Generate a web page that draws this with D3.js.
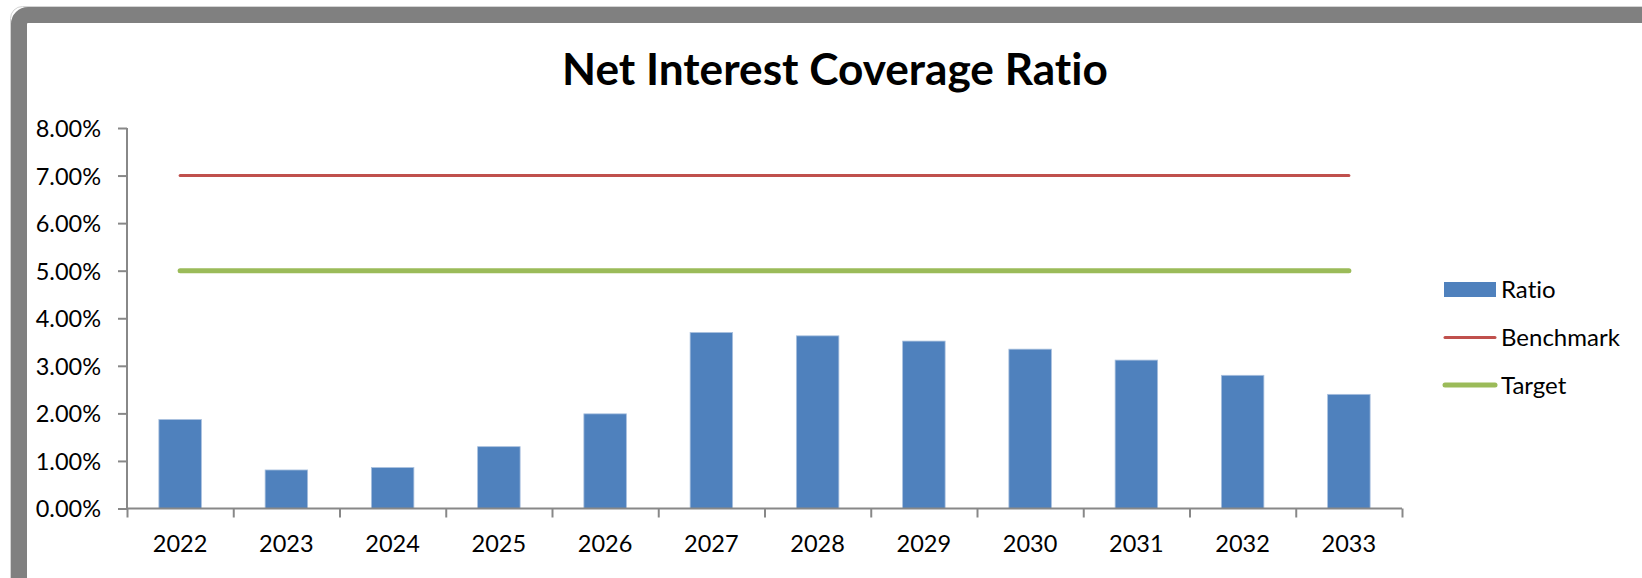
<!DOCTYPE html>
<html>
<head>
<meta charset="utf-8">
<script src="https://cdn.jsdelivr.net/npm/d3@7"></script>
<style>
  html, body { margin: 0; padding: 0; background: #fff; overflow: hidden; }
  .chart-text { font-family: Lato, "Noto Sans", sans-serif; fill: #000; font-variant-ligatures: none; }
</style>
</head>
<body>
<div id="chart-area"></div>
<script>
const years = ["2022", "2023", "2024", "2025", "2026", "2027", "2028", "2029", "2030", "2031", "2032", "2033"];
const ratio = [0.0187, 0.0081, 0.0086, 0.0130, 0.0199, 0.0370, 0.0363, 0.0352, 0.0335, 0.0312, 0.0280, 0.0240];
const benchmark = [0.07, 0.07, 0.07, 0.07, 0.07, 0.07, 0.07, 0.07, 0.07, 0.07, 0.07, 0.07];
const target = [0.05, 0.05, 0.05, 0.05, 0.05, 0.05, 0.05, 0.05, 0.05, 0.05, 0.05, 0.05];
const yTicks = [0, 0.01, 0.02, 0.03, 0.04, 0.05, 0.06, 0.07, 0.08];
const legendNames = ["Ratio", "Benchmark", "Target"];

const totalWidth = 1642, totalHeight = 578;
const plotLeft = 127, plotRight = 1402, plotTop = 128, plotBottom = 508.5;
const colors = { Ratio: "#4F81BD", Benchmark: "#C0504D", Target: "#9BBB59" };
const axisColor = "#888888";

const svg = d3.select("#chart-area")
  .append("svg")
    .attr("width", totalWidth)
    .attr("height", totalHeight);

// frame
svg.append("rect")
  .attr("x", 10.5).attr("y", 6.5)
  .attr("width", 1700).attr("height", 600)
  .attr("rx", 12)
  .attr("fill", "none")
  .attr("stroke", "#d4d4d4")
  .attr("stroke-width", 1);

svg.append("rect")
  .attr("x", 19).attr("y", 15)
  .attr("width", 1700).attr("height", 600)
  .attr("rx", 9)
  .attr("fill", "#fff")
  .attr("stroke", "#808080")
  .attr("stroke-width", 16);

const x = d3.scaleBand()
  .domain(years)
  .range([plotLeft, plotRight])
  .paddingInner(0.6)
  .paddingOuter(0.3);

const xTickScale = d3.scaleLinear()
  .domain([0, years.length])
  .range([plotLeft, plotRight]);

const y = d3.scaleLinear()
  .domain([0, 0.08])
  .range([plotBottom, plotTop]);

// title
const title = svg.append("text")
  .attr("class", "chart-text")
  .attr("x", 835)
  .attr("y", 85)
  .attr("text-anchor", "middle")
  .attr("font-weight", "bold")
  .attr("font-size", "44px")
  .text("Net Interest Coverage Ratio");
// fit title width to the reference
const tw = title.node().getComputedTextLength();
title.attr("font-size", (44 * 546 / tw) + "px");

// bars
svg.append("g")
  .selectAll("rect")
  .data(ratio)
  .join("rect")
    .attr("x", (d, i) => x(years[i]))
    .attr("y", d => y(d))
    .attr("width", x.bandwidth())
    .attr("height", d => y(0) - y(d))
    .attr("fill", colors.Ratio)
    .attr("stroke", "#a9c0de")
    .attr("stroke-width", 0.8);

// y axis
const yAxis = svg.append("g")
  .attr("transform", "translate(" + plotLeft + ",0)")
  .call(d3.axisLeft(y).tickValues(yTicks).tickFormat(d3.format(".2%")).tickSize(9).tickPadding(17));
yAxis.select(".domain").attr("stroke", axisColor).attr("stroke-width", 2).attr("d", "M0," + plotTop + "V" + plotBottom);
yAxis.selectAll(".tick line").attr("stroke", axisColor).attr("stroke-width", 2);
yAxis.selectAll(".tick text")
  .attr("class", "chart-text")
  .attr("font-size", "23.5px")
  .attr("dy", "0.36em");
yAxis.attr("font-family", null);

// x axis ticks on category boundaries
const xAxis = svg.append("g")
  .attr("transform", "translate(0," + plotBottom + ")")
  .call(d3.axisBottom(xTickScale).ticks(years.length).tickFormat("").tickSize(9));
xAxis.select(".domain").attr("stroke", axisColor).attr("stroke-width", 2).attr("d", "M" + plotLeft + ",0H" + plotRight);
xAxis.selectAll(".tick line").attr("stroke", axisColor).attr("stroke-width", 2);

// x labels
svg.append("g")
  .selectAll("text")
  .data(years)
  .join("text")
    .attr("class", "chart-text")
    .attr("x", d => x(d) + x.bandwidth() / 2)
    .attr("y", 552)
    .attr("text-anchor", "middle")
    .attr("font-size", "23.5px")
    .text(d => d);

// lines
const line = d3.line()
  .x((d, i) => x(years[i]) + x.bandwidth() / 2)
  .y(d => y(d));

svg.append("path")
  .datum(benchmark)
  .attr("d", line)
  .attr("fill", "none")
  .attr("stroke", colors.Benchmark)
  .attr("stroke-width", 3)
  .attr("stroke-linecap", "round");

svg.append("path")
  .datum(target)
  .attr("d", line)
  .attr("fill", "none")
  .attr("stroke", colors.Target)
  .attr("stroke-width", 5)
  .attr("stroke-linecap", "round");

// legend
const legend = svg.append("g").attr("transform", "translate(1444,0)");
const legendY = [289.5, 337.5, 385];
legendNames.forEach((name, i) => {
  const row = legend.append("g").attr("transform", "translate(0," + legendY[i] + ")");
  if (name === "Ratio") {
    row.append("rect")
      .attr("x", 0).attr("y", -7.5)
      .attr("width", 52).attr("height", 15)
      .attr("fill", colors.Ratio);
  } else {
    row.append("line")
      .attr("x1", 1).attr("x2", 51)
      .attr("stroke", colors[name])
      .attr("stroke-width", name === "Target" ? 5 : 3)
      .attr("stroke-linecap", "round");
  }
  row.append("text")
    .attr("class", "chart-text")
    .attr("x", 57)
    .attr("dy", "0.36em")
    .attr("font-size", "24px")
    .text(name);
});
</script>
</body>
</html>
